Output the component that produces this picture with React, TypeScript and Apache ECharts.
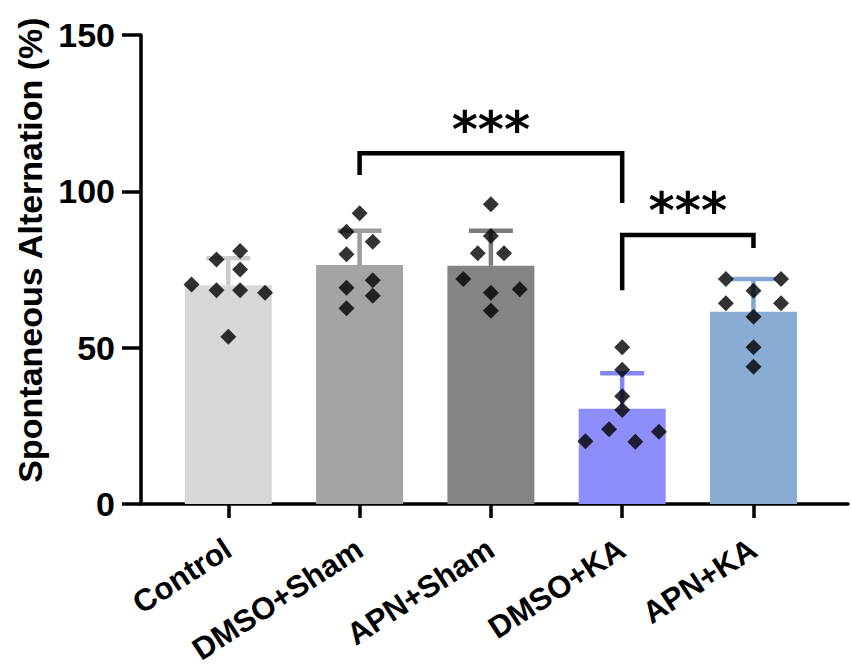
import React, { useEffect, useRef } from "react";
import * as echarts from "echarts";

const categories = ["Control", "DMSO+Sham", "APN+Sham", "DMSO+KA", "APN+KA"];
const means = [70.0, 76.4, 76.2, 30.5, 61.5];
const sds = [8.6, 11.0, 11.2, 11.3, 10.5];
const yTicks = [0, 50, 100, 150];

const valuesControl = [70.2, 78.2, 80.9, 75.0, 68.4, 68.4, 67.6, 53.5];
const jitterControl = [-0.28, -0.09, 0.09, 0.09, -0.09, 0.09, 0.28, 0];
const valuesDmsoSham = [93.0, 87.1, 83.9, 79.9, 71.6, 69.2, 66.6, 62.6];
const jitterDmsoSham = [0, -0.1, 0.1, -0.1, 0.1, -0.1, 0.1, -0.1];
const valuesApnSham = [95.9, 85.7, 80.2, 80.2, 72.0, 67.6, 68.7, 61.8];
const jitterApnSham = [0, 0, -0.1, 0.1, -0.21, 0, 0.22, 0];
const valuesDmsoKa = [50.1, 42.9, 34.5, 30.1, 23.9, 23.1, 20.1, 19.9];
const jitterDmsoKa = [0, 0, 0, 0, -0.1, 0.28, -0.28, 0.1];
const valuesApnKa = [72.0, 72.0, 68.2, 64.2, 64.2, 59.9, 50.1, 43.9];
const jitterApnKa = [-0.21, 0.21, 0, -0.21, 0.21, 0, 0, 0];

// significance brackets: [leftGroup, rightGroup, topY, leftLegEnd, rightLegEnd]
const brackets = [
  [1, 3, 112.2, 105.2, 96.3],
  [3, 4, 86.0, 68.4, 81.9],
];
const bracketLabels = ["***", "***"];
const bracketLabelY = [119.6, 93.6];

const barColors = ["#d7d7d7", "#a3a3a8", "#848484", "#8e8efb", "#8aabd4"];
const errColors = ["#cdcdcd", "#9c9c9c", "#7c7c7c", "#8585f5", "#85a6d2"];

const FONT = 'Arial, "Liberation Sans", Helvetica, sans-serif';

export default function App() {
  const ref = useRef<HTMLDivElement>(null);
  useEffect(() => {
    if (!ref.current) return;
    const chart = echarts.init(ref.current, undefined, { renderer: "svg" });

    const groups = [
      [valuesControl, jitterControl],
      [valuesDmsoSham, jitterDmsoSham],
      [valuesApnSham, jitterApnSham],
      [valuesDmsoKa, jitterDmsoKa],
      [valuesApnKa, jitterApnKa],
    ];
    const scatterData: number[][] = [];
    groups.forEach(([vals, jit], gi) => {
      (vals as number[]).forEach((v, k) => {
        scatterData.push([gi + (jit as number[])[k], v]);
      });
    });

    const option: any = {
      animation: false,
      backgroundColor: "#ffffff",
      grid: { left: 141, right: 3, top: 35, bottom: 168 },
      xAxis: {
        type: "value",
        min: -0.665,
        max: 4.72,
        splitLine: { show: false },
        axisLine: { show: true, onZero: false, lineStyle: { color: "#000", width: 3.5 } },
        axisTick: {
          show: true,
          length: 14,
          customValues: [0, 1, 2, 3, 4],
          lineStyle: { color: "#000", width: 3.5 },
        },
        axisLabel: {
          customValues: [0, 1, 2, 3, 4],
          formatter: (v: number) => categories[Math.round(v)] ?? "",
          rotate: 33,
          margin: 42,
          fontSize: 31,
          fontWeight: "bold",
          fontFamily: FONT,
          color: "#000",
        },
      },
      yAxis: {
        type: "value",
        min: 0,
        max: 150,
        interval: 50,
        splitLine: { show: false },
        axisLine: { show: true, onZero: false, lineStyle: { color: "#000", width: 3.5 } },
        axisTick: { show: true, length: 19, lineStyle: { color: "#000", width: 3.5 } },
        axisLabel: {
          margin: 26,
          fontSize: 34,
          fontWeight: "bold",
          fontFamily: FONT,
          color: "#000",
          formatter: (v: number) => (yTicks.includes(v) ? String(v) : ""),
        },
        name: "Spontaneous Alternation (%)",
        nameLocation: "middle",
        nameRotate: 90,
        nameGap: 94,
        nameTextStyle: {
          fontSize: 34,
          fontWeight: "bold",
          fontFamily: FONT,
          color: "#000",
          padding: [0, 0, 0, 39],
        },
      },
      series: [
        {
          type: "bar",
          barWidth: 87,
          z: 1,
          data: means.map((m, i) => ({
            value: [i, m],
            itemStyle: { color: barColors[i] },
          })),
        },
        {
          type: "custom",
          z: 2,
          data: means.map((m, i) => [i, m, sds[i]]),
          encode: { x: 0, y: 1 },
          renderItem: (params: any, api: any) => {
            const i = params.dataIndex;
            const x = api.value(0);
            const m = api.value(1);
            const s = api.value(2);
            const base = api.coord([x, m]);
            const top = api.coord([x, m + s]);
            const style = { stroke: errColors[i], lineWidth: 4.5 };
            return {
              type: "group",
              children: [
                { type: "line", shape: { x1: base[0], y1: base[1], x2: top[0], y2: top[1] }, style },
                { type: "line", shape: { x1: top[0] - 22, y1: top[1], x2: top[0] + 22, y2: top[1] }, style },
              ],
            };
          },
        },
        {
          type: "scatter",
          z: 3,
          symbol: "diamond",
          symbolSize: 16,
          itemStyle: { color: "#000" },
          data: scatterData,
        },
        {
          type: "custom",
          z: 4,
          clip: false,
          data: brackets.map((b, i) => [...b, (b[0] + b[1]) / 2, bracketLabelY[i]]),
          encode: { x: [0, 1], y: [2, 3, 4] },
          renderItem: (params: any, api: any) => {
            const i = params.dataIndex;
            const x1 = api.value(0);
            const x2 = api.value(1);
            const yt = api.value(2);
            const yl = api.value(3);
            const yr = api.value(4);
            const lx = api.value(5);
            const ly = api.value(6);
            const p1 = api.coord([x1, yl]);
            const p2 = api.coord([x1, yt]);
            const p3 = api.coord([x2, yt]);
            const p4 = api.coord([x2, yr]);
            const lp = api.coord([lx, ly]);
            return {
              type: "group",
              children: [
                {
                  type: "polyline",
                  shape: { points: [p1, p2, p3, p4] },
                  style: { stroke: "#000", lineWidth: 4.5, fill: "none", lineJoin: "miter" },
                },
                {
                  type: "text",
                  x: lp[0],
                  y: lp[1],
                  style: {
                    text: bracketLabels[i],
                    fontSize: 50,
                    fontWeight: "bold",
                    fontFamily: '"DejaVu Sans", sans-serif',
                    fill: "#000",
                    align: "center",
                    verticalAlign: "middle",
                  },
                },
              ],
            };
          },
        },
      ],
    };
    chart.setOption(option);
    return () => chart.dispose();
  }, []);
  return (
    <div
      ref={ref}
      style={{ position: "fixed", left: 0, top: 0, width: 851, height: 672 }}
    />
  );
}
